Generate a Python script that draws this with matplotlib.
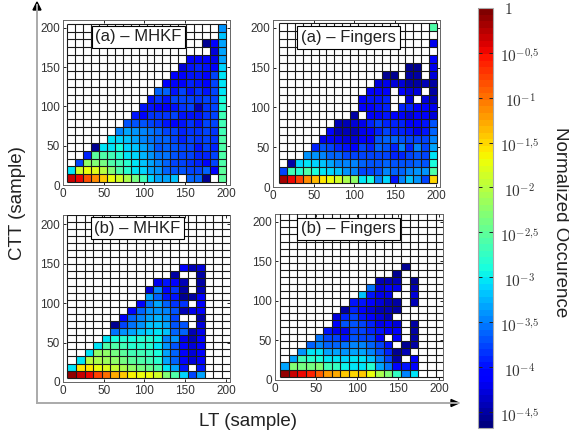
import numpy as np
import matplotlib
matplotlib.use('Agg')
import matplotlib.pyplot as plt

plt.rcParams['font.family'] = ['Liberation Sans', 'DejaVu Sans']
plt.rcParams['mathtext.fontset'] = 'cm'

n = np.nan

# log10 of the occurrence, one list per row from the bottom, nan = empty cell
a_mhkf = [
    [-0.3,-0.5,-0.85,-1.1,-1.4,-1.7,-1.9,-2.1,-2.4,-2.7,-3.1,-3.3,-3.3,-3.2,n,-3.6,-3.6,-4.55,n,-2.5],
    [-3.0,-1.9,-1.75,-1.8,-2.0,-2.3,-2.6,-2.8,-3.0,-3.1,-3.3,-3.4,-3.6,-3.7,-3.7,-3.75,-3.75,-3.65,-4.1,-2.5],
    [n,-3.8,-2.2,-2.3,-2.4,-2.6,-2.7,-2.8,-3.0,-3.2,-3.3,-3.5,-3.6,-3.75,-3.75,-3.85,-3.9,-4.15,-3.75,-2.6],
    [n,n,-3.9,-2.55,-2.6,-2.7,-2.8,-3.0,-3.1,-3.25,-3.4,-3.55,-3.55,-3.7,-3.8,-3.8,-3.9,-3.9,-3.8,-2.6],
    [n,n,n,-4.55,-3.0,-3.0,-2.9,-3.1,-3.2,-3.3,-3.5,-3.7,-3.6,-3.7,-3.8,-3.75,-4.0,-3.75,-3.9,-2.6],
    [n,n,n,n,n,-3.0,-3.1,-3.2,-3.3,-3.45,-3.55,-3.6,-3.65,-3.75,-3.9,-3.75,-3.85,-3.75,-3.85,-2.6],
    [n,n,n,n,n,n,-3.45,-3.35,-3.4,-3.5,-3.55,-3.65,-3.75,-3.75,-3.9,-3.85,-3.85,-3.75,-3.85,-2.7],
    [n,n,n,n,n,n,n,-3.7,-3.7,-3.7,-3.75,-3.85,-3.95,-4.1,-3.95,-3.85,-3.95,-3.75,-3.75,-2.7],
    [n,n,n,n,n,n,n,n,-3.95,-4.1,-3.85,-3.85,-3.85,-3.75,-3.95,-3.95,-3.95,-3.85,-3.75,-2.7],
    [n,n,n,n,n,n,n,n,n,-4.0,-4.0,-4.1,-4.1,-3.95,-3.85,-3.75,-4.4,-3.85,-3.75,-2.8],
    [n,n,n,n,n,n,n,n,n,n,-4.0,-3.85,-3.95,-3.8,-3.8,-3.8,-3.85,-3.75,-3.75,-2.9],
    [n,n,n,n,n,n,n,n,n,n,n,-3.6,-3.6,-4.0,-3.8,-4.0,-3.85,-4.0,-3.75,-3.0],
    [n,n,n,n,n,n,n,n,n,n,n,n,-4.15,-4.15,-4.15,-3.9,-4.0,-4.15,-3.8,-3.0],
    [n,n,n,n,n,n,n,n,n,n,n,n,n,-4.15,-4.15,-4.0,-4.0,-4.15,-3.8,-3.0],
    [n,n,n,n,n,n,n,n,n,n,n,n,n,n,-4.3,-4.0,-3.9,-4.0,-4.15,-3.1],
    [n,n,n,n,n,n,n,n,n,n,n,n,n,n,n,-4.05,-4.05,-4.05,-4.2,-3.3],
    [n,n,n,n,n,n,n,n,n,n,n,n,n,n,n,n,n,n,-4.3,-3.3],
    [n,n,n,n,n,n,n,n,n,n,n,n,n,n,n,n,n,-4.55,-4.15,-3.3],
    [n,n,n,n,n,n,n,n,n,n,n,n,n,n,n,n,n,n,n,-3.2],
    [n,n,n,n,n,n,n,n,n,n,n,n,n,n,n,n,n,n,n,-3.4],
]
a_fingers = [
    [-0.2,-0.5,-0.8,-1.1,-1.35,-1.55,-1.7,-1.85,-2.1,-2.2,-3.0,-2.9,-3.5,-3.1,-4.0,-3.5,-3.2,-3.4,-3.8,-1.5],
    [-3.8,-2.7,-2.8,-2.6,-2.9,-3.0,-3.1,-3.2,-3.4,-3.5,-3.8,-3.8,-3.7,-3.5,-3.6,-3.6,-3.5,-3.4,-3.4,-2.6],
    [n,-4.5,-3.1,-3.0,-3.1,-3.2,-3.3,-3.5,-3.5,-3.5,-3.6,-3.7,-3.7,-3.6,-3.7,-3.7,-3.7,-3.6,-3.7,-2.9],
    [n,n,n,-3.4,-3.4,-3.5,-3.6,-3.6,-3.8,-3.8,-3.8,-3.8,-3.8,-3.8,-3.9,-3.9,-3.8,-3.7,-3.8,-3.0],
    [n,n,n,n,-3.9,-3.7,-3.8,-3.9,-4.0,-4.1,-3.8,-3.9,-3.6,-3.7,-3.9,-3.5,-3.9,-3.5,-3.8,-3.3],
    [n,n,n,n,n,-4.2,-4.1,-4.2,-4.3,-4.3,-4.1,-4.1,-3.7,-3.6,-3.6,-3.7,-3.8,-3.8,-3.8,-3.5],
    [n,n,n,n,n,n,-4.05,-4.4,-4.4,-4.4,-4.2,-4.1,-3.9,-3.8,-3.9,-3.9,-4.0,-4.2,-4.0,-3.6],
    [n,n,n,n,n,n,n,-4.4,-4.4,-4.3,-4.2,-3.9,-3.8,-3.9,-3.9,-3.9,-4.1,-4.1,-4.0,-3.7],
    [n,n,n,n,n,n,n,n,n,-4.5,n,-4.1,-4.1,-4.0,-4.1,-4.1,-4.3,-4.1,-4.1,-4.3],
    [n,n,n,n,n,n,n,n,n,n,-4.1,-4.1,-4.0,-3.9,n,-3.9,-3.9,-4.1,-4.1,-4.2],
    [n,n,n,n,n,n,n,n,n,n,-4.1,-4.0,-4.0,-3.9,n,n,-4.3,n,-4.3,-4.4],
    [n,n,n,n,n,n,n,n,n,n,n,-4.1,-4.1,-4.1,n,-4.1,-4.3,-4.3,n,-4.5],
    [n,n,n,n,n,n,n,n,n,n,n,n,-4.3,-4.2,-4.3,-4.3,-4.5,-4.5,-4.4,-4.5],
    [n,n,n,n,n,n,n,n,n,n,n,n,n,-4.55,-4.55,n,-4.5,-4.5,n,-4.3],
    [n,n,n,n,n,n,n,n,n,n,n,n,n,n,n,n,-4.55,-4.55,n,-4.2],
    [n,n,n,n,n,n,n,n,n,n,n,n,n,n,n,n,n,n,n,-4.1],
    [n]*20,
    [n,n,n,n,n,n,n,n,n,n,n,n,n,n,n,n,n,n,n,-4.2],
    [n]*20,
    [n,n,n,n,n,n,n,n,n,n,n,n,n,n,n,n,n,n,n,-2.6],
]
b_mhkf = [
    [-0.1,-0.3,-0.5,-0.75,-1.0,-1.3,-1.45,-1.65,-1.7,-1.7,-1.85,-2.3,-2.6,-3.1,-3.75,-3.35],
    [-3.0,-1.55,-1.6,-1.7,-1.8,-1.95,-2.1,-2.25,-2.35,-2.45,-2.6,-3.0,-3.3,-4.0,n,-4.0],
    [n,-3.0,-2.0,-2.1,-2.15,-2.25,-2.4,-2.55,-2.6,-2.65,-2.8,-3.3,-3.6,-4.05,-4.3,-4.15],
    [n,n,-3.0,-2.2,-2.25,-2.4,-2.5,-2.65,-2.7,-2.75,-2.9,-3.3,-3.6,-4.1,-4.3,-4.15],
    [n,n,n,-3.0,-2.6,-2.6,-2.7,-2.8,-2.8,-2.85,-3.0,-3.4,-3.7,-4.1,-4.3,-4.1],
    [n,n,n,n,-3.0,-2.9,-2.85,-2.9,-2.85,-2.85,-2.95,-3.5,-3.4,-4.2,-4.4,-4.1],
    [n,n,n,n,n,-3.55,-3.4,-3.3,-3.2,-3.1,-3.05,-3.2,-3.6,-3.6,-4.4,-4.2],
    [n,n,n,n,n,-4.55,-3.8,-3.55,-3.4,-3.2,-3.15,-3.3,-3.7,-3.7,n,-4.3],
    [n,n,n,n,n,n,-4.1,-3.6,-3.5,-3.3,-3.25,-3.4,-3.75,n,n,-4.5],
    [n,n,n,n,n,n,n,-4.05,-3.65,-3.4,-3.4,-3.5,-3.7,-4.4,-4.2,-4.1],
    [n,n,n,n,n,n,n,n,-4.1,-3.55,-3.35,-3.6,-3.85,-3.85,n,-4.1],
    [n,n,n,n,n,n,n,n,n,-3.35,-3.65,-3.95,-4.0,-4.55,-4.5,-4.1],
    [n,n,n,n,n,n,n,n,n,-4.3,-3.45,-4.05,-3.85,-4.5,n,-4.4],
    [n,n,n,n,n,n,n,n,n,n,-4.2,-4.0,-4.1,-4.4,n,-4.5],
    [n,n,n,n,n,n,n,n,n,n,n,n,-4.5,n,n,-4.5],
    [n,n,n,n,n,n,n,n,n,n,n,n,n,-4.1,-4.4,-4.3],
]
b_fingers = [
    [-0.1,-0.3,-0.5,-0.6,-0.9,-1.2,-1.3,-1.45,-1.5,-1.4,-1.75,-2.05,-2.3,-2.75,-3.5,-3.0],
    [-3.3,-2.3,-2.4,-2.35,-2.3,-2.65,-2.75,-2.95,-3.0,-3.0,-2.8,-3.3,-3.55,-4.05,-4.0,-4.1],
    [n,-3.3,-2.7,-2.8,-2.9,-3.0,-3.05,-3.1,-3.0,-3.0,-3.2,-3.5,-3.75,-4.5,n,-4.1],
    [n,n,-3.4,-3.0,-3.05,-3.3,-3.3,-3.4,-3.3,-3.35,-3.5,-3.7,-3.9,-4.55,-4.4,n],
    [n,n,n,-3.6,-3.5,-3.6,-3.6,-3.55,-3.5,-3.5,-3.6,-3.8,-4.0,n,-4.55,-4.5],
    [n,n,n,n,-3.55,-3.75,-3.8,-4.0,-3.7,-3.8,-3.75,-4.1,n,-4.1,n,-4.5],
    [n,n,n,n,n,-4.0,-4.2,-4.2,-3.75,-3.8,-3.9,-4.0,-4.1,-4.1,n,-4.5],
    [n,n,n,n,n,n,-4.1,-3.7,-3.7,-3.8,-3.9,-4.2,-4.1,-4.3,n,-4.5],
    [n,n,n,n,n,n,-4.3,-3.9,-3.8,-4.0,-4.1,-4.3,-4.4,n,n,n],
    [n,n,n,n,n,n,n,-4.5,-3.9,-4.1,-4.3,-4.4,-4.4,-4.5,n,n],
    [n,n,n,n,n,n,n,n,-4.0,-4.0,-4.1,-4.3,-4.45,-4.5,n,-4.4],
    [n,n,n,n,n,n,n,n,n,-3.2,-4.0,-4.2,-4.2,n,n,-4.3],
    [n,n,n,n,n,n,n,n,n,n,-3.55,-4.3,-4.1,-4.2,n,-4.4],
    [n,n,n,n,n,n,n,n,n,n,n,-4.45,-4.4,-4.4,n,-4.55],
    [n,n,n,n,n,n,n,n,n,n,n,n,n,-4.55,n,n],
    [n,n,n,n,n,n,n,n,n,n,n,n,n,n,-4.55,n],
]

panels = [a_mhkf, a_fingers, b_mhkf, b_fingers]
titles = ['(a) – MHKF', '(a) – Fingers', '(b) – MHKF', '(b) – Fingers']
# pixel boxes left, right, top, bottom
boxes = [(63, 230, 20, 185), (273, 440, 20, 187), (63, 230, 215, 382), (275, 443, 214, 380)]
y_tops = [210, 210, 212, 210]
title_xy = [(138.5, 37), (348.5, 37.5), (137.5, 228), (348.5, 229)]
# grid of each panel: first edge and cell size in data units, number of cells
x_start = [4.5, 7.4, 5.3, 6.0]
x_step = [9.8, 9.7, 10.55, 10.55]
y_start = [3.4, 4.65, 5.4, 4.2]
y_step = [10.1, 10.06, 9.0, 9.0]
n_cols = [20, 20, 19, 19]
n_rows = [20, 20, 23, 23]

axis_ticks = [0, 50, 100, 150, 200]
cbar_ticks = [-0.5, -1, -1.5, -2, -2.5, -3, -3.5, -4, -4.5]
cbar_labels = ['$10^{-0{,}5}$', '$10^{-1}$', '$10^{-1{,}5}$', '$10^{-2}$', '$10^{-2{,}5}$',
               '$10^{-3}$', '$10^{-3{,}5}$', '$10^{-4}$', '$10^{-4{,}5}$']
vmin, vmax = -4.68, 0

W, H = 569, 433
fig = plt.figure(figsize=(W / 100, H / 100), dpi=100)

cmap = plt.get_cmap('jet', 64).copy()
cmap.set_bad('white')

def pix_box(l, r, t, b):
    return [l / W, 1 - b / H, (r - l) / W, (b - t) / H]

for i, data in enumerate(panels):
    ax = fig.add_axes(pix_box(*boxes[i]))
    z = np.full((n_rows[i], n_cols[i]), np.nan)
    for j, row in enumerate(data):
        z[j, :len(row)] = row
    xe = x_start[i] + np.arange(n_cols[i] + 1) * x_step[i]
    ye = y_start[i] + np.arange(n_rows[i] + 1) * y_step[i]
    mesh = ax.pcolormesh(xe, ye, np.ma.masked_invalid(z), cmap=cmap, vmin=vmin, vmax=vmax)
    ax.vlines(xe, ye[0], ye[-1], color='#1a1a1a', linewidth=0.8, zorder=3)
    ax.hlines(ye, xe[0], xe[-1], color='#1a1a1a', linewidth=0.8, zorder=3)
    ax.set_xlim(0, 205)
    ax.set_ylim(0, y_tops[i])
    ax.set_xticks(axis_ticks)
    ax.set_yticks(axis_ticks)
    ax.tick_params(direction='in', length=2, width=0.6, top=True, right=True,
                   labelsize=8.5, labelcolor='#333333', pad=2)
    for s in ax.spines.values():
        s.set_linewidth(0.7)
        s.set_color('#666666')
    fig.text(title_xy[i][0] / W, 1 - title_xy[i][1] / H, titles[i], ha='center', va='center',
             fontsize=12, color='#222222', zorder=5,
             bbox=dict(boxstyle='square,pad=0.22', fc='white', ec='black', lw=0.8))

cax = fig.add_axes(pix_box(478, 493, 8, 428))
cb = fig.colorbar(mesh, cax=cax)
cb.set_ticks(cbar_ticks)
cb.set_ticklabels([])
cb.outline.set_edgecolor('#aaaaaa')
cax.tick_params(direction='in', length=3, width=0.7, left=True, right=True, color='#222222')
for v, s in zip(cbar_ticks, cbar_labels):
    fig.text(520 / W, 1 - (12 - v * 90) / H, s, ha='center', va='center', fontsize=11, color='#333333')
fig.text(508 / W, 1 - 10 / H, '$1$', ha='center', va='center', fontsize=11, color='#333333')
fig.text(560 / W, 1 - 222 / H, 'Normalized Occurence', rotation=270, ha='center', va='center',
         fontsize=13.5, color='#222222')

# the two long arrows
fig.add_artist(plt.Line2D([37 / W, 458 / W], [1 - 403 / H, 1 - 403 / H], color='#aaaaaa', lw=1.4))
fig.add_artist(plt.Line2D([37 / W, 37 / W], [1 - 403 / H, 1 - 5 / H], color='#aaaaaa', lw=1.4))
fig.add_artist(plt.Polygon([[37 / W, 1 - 2 / H], [33 / W, 1 - 10 / H], [41 / W, 1 - 10 / H]], color='black'))
fig.add_artist(plt.Polygon([[459 / W, 1 - 403 / H], [451 / W, 1 - 399.5 / H], [451 / W, 1 - 406.5 / H]], color='black'))
fig.text(18 / W, 1 - 203 / H, 'CTT (sample)', rotation=90, ha='center', va='center', fontsize=13.5, color='#222222')
fig.text(248 / W, 1 - 421 / H, 'LT (sample)', ha='center', va='center', fontsize=13.5, color='#222222')

fig.savefig('out.png', dpi=100)
